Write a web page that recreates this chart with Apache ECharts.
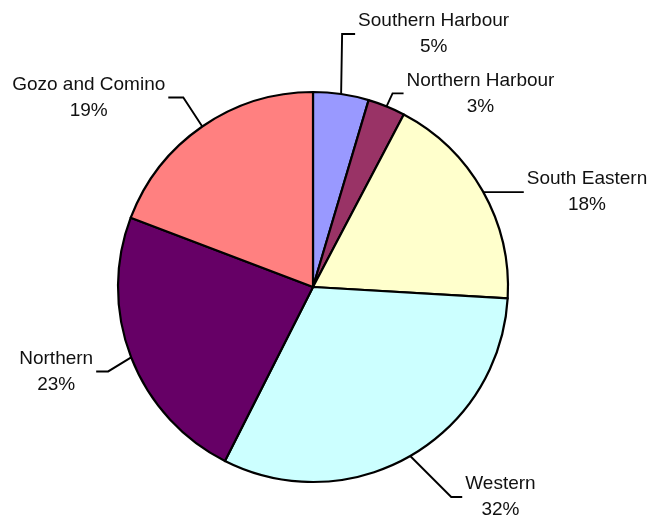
<!DOCTYPE html>
<html>
<head>
<meta charset="utf-8">
<script src="https://cdn.jsdelivr.net/npm/echarts@6/dist/echarts.min.js"></script>
<style>
html,body{margin:0;padding:0;background:#fff;}
#chart{width:655px;height:517px;}
</style>
</head>
<body>
<div id="chart"></div>
<script>
// Data
var categories = ['Southern Harbour', 'Northern Harbour', 'South Eastern', 'Western', 'Northern', 'Gozo and Comino'];
var values = [4.6, 3.1, 18.2, 31.5, 23.3, 19.2];
var colors = ['#9999FF', '#993366', '#FFFFCC', '#CCFFFF', '#660066', '#FF8080'];

// Leader line styling (elbow offset from slice edge, horizontal tail length)
var leaderElbow = [[1, -60], [6, -13], [0, 1], [41, 41], [-23, 14], [-19, -29]];
var leaderTail = [13, 11, 41, 11, 12, 15];
var labelGap = 3;

var chart = echarts.init(document.getElementById('chart'), null, {renderer: 'canvas'});

var seriesData = categories.map(function (c, i) {
  return { name: c, value: values[i], itemStyle: { color: colors[i] } };
});

chart.setOption({
  backgroundColor: '#ffffff',
  animation: false,
  series: [{
    type: 'pie',
    center: [313, 287],
    radius: [0, 195],
    startAngle: 90,
    clockwise: true,
    avoidLabelOverlap: false,
    data: seriesData,
    itemStyle: { borderColor: '#000000', borderWidth: 2.2 },
    emphasis: { disabled: true },
    label: {
      show: true,
      position: 'outside',
      fontFamily: 'Liberation Sans, Arial, sans-serif',
      fontSize: 19,
      lineHeight: 26,
      color: '#111111',
      formatter: function (p) { return p.name + '\n' + Math.round(p.percent) + '%'; }
    },
    labelLine: {
      show: true,
      length: 10,
      length2: 10,
      lineStyle: { color: '#000000', width: 1.9 }
    },
    labelLayout: function (params) {
      var i = params.dataIndex;
      var pts = params.labelLinePoints;
      if (!pts) return {};
      var p0 = pts[0];
      var el = leaderElbow[i];
      var p1 = [p0[0] + el[0], p0[1] + el[1]];
      var right = p1[0] >= 313;
      var p2 = [p1[0] + (right ? 1 : -1) * leaderTail[i], p1[1]];
      var w = params.labelRect.width;
      var x = right ? p2[0] + labelGap + w / 2 : p2[0] - labelGap - w / 2;
      return {
        x: x,
        y: p2[1],
        align: 'center',
        verticalAlign: 'middle',
        labelLinePoints: [p0, p1, p2]
      };
    }
  }]
});
</script>
</body>
</html>
